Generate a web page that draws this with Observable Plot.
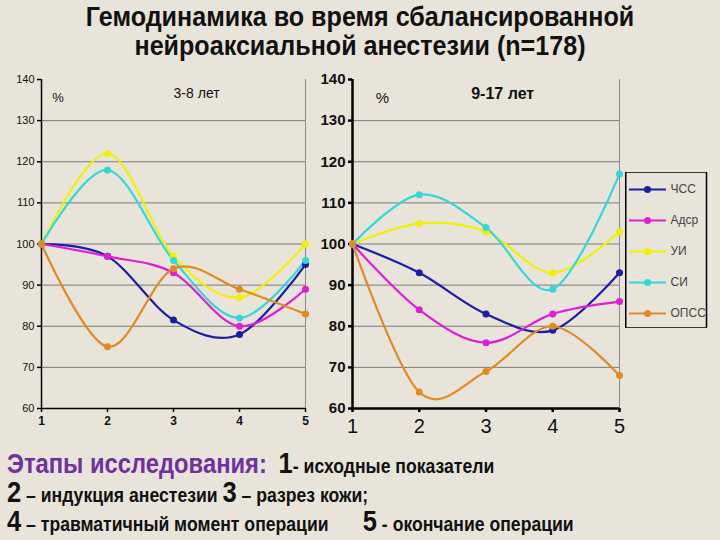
<!DOCTYPE html>
<html><head><meta charset="utf-8">
<script src="https://cdn.jsdelivr.net/npm/d3@7"></script>
<script src="https://cdn.jsdelivr.net/npm/@observablehq/plot@0.6"></script>
<style>
body{margin:0;background:#e8e4da;}
#page{position:relative;width:720px;height:540px;background:#e8e4da;overflow:hidden;font-family:"Liberation Sans",Arial,sans-serif;}
#title{position:absolute;top:3px;left:0;width:720px;text-align:center;font-weight:bold;font-size:27px;line-height:29px;color:#111;transform:scaleX(0.93);transform-origin:360px 0;}
.abs{position:absolute;}
#notes{position:absolute;left:7px;top:449px;font-weight:bold;color:#111;transform:scaleX(0.88);transform-origin:0 0;}
#notes div{height:29px;line-height:29px;white-space:pre;}
.big{font-size:29px;}
.sm{font-size:20px;}
.pur{color:#7030a0;font-size:27px;}
</style></head>
<body><div id="page">
<div id="title">Гемодинамика во время сбалансированной<br>нейроаксиальной анестезии (n=178)</div>
<div id="left" class="abs" style="left:0;top:60px"></div>
<div id="right" class="abs" style="left:310px;top:60px"></div>
<div id="legend" class="abs" style="left:625px;top:172px"></div>
<div id="notes">
<div><span class="pur">Этапы исследования:</span>   <span class="big">1</span><span class="sm">- исходные показатели</span></div>
<div><span class="big">2</span><span class="sm"> – индукция анестезии </span><span class="big">3</span><span class="sm"> – разрез кожи;</span></div>
<div><span class="big">4</span><span class="sm"> – травматичный момент операции       </span><span class="big">5</span><span class="sm"> - окончание операции</span></div>
</div>
</div>
<script>
const stages = [1, 2, 3, 4, 5];
const seriesNames = ["ЧСС", "Адср", "УИ", "СИ", "ОПСС"];
const seriesColors = ["#1c1ca8", "#e01ed6", "#f0f000", "#30d8dc", "#e08a22"];
const yTicks = [60, 70, 80, 90, 100, 110, 120, 130, 140];
const gridTicks = [70, 80, 90, 100, 110, 120, 130];

// 3-8 лет
const young_HR   = [100, 97, 81.5, 78, 95];
const young_MAP  = [100, 97, 93, 80, 89];
const young_SVI  = [100, 122, 97, 87, 100];
const young_CI   = [100, 118, 96, 82, 96];
const young_SVR  = [100, 75, 94, 89, 83];
// 9-17 лет
const old_HR   = [100, 93, 83, 79, 93];
const old_MAP  = [100, 84, 76, 83, 86];
const old_SVI  = [100, 105, 103, 93, 103];
const old_CI   = [100, 112, 104, 89, 117];
const old_SVR  = [100, 64, 69, 80, 68];

function table(arrs){
  const rows = [];
  arrs.forEach((vals, k) => vals.forEach((v, i) => rows.push({series: seriesNames[k], stage: stages[i], value: v})));
  return rows;
}
const youngData = table([young_HR, young_MAP, young_SVI, young_CI, young_SVR]);
const oldData = table([old_HR, old_MAP, old_SVI, old_CI, old_SVR]);

function chart(data, opt){
  return Plot.plot({
    width: 315, height: 390,
    marginLeft: opt.ml, marginRight: opt.mr, marginTop: 19, marginBottom: 42,
    style: {background: "transparent", fontFamily: "'Liberation Sans',Arial,sans-serif", color: "#111"},
    x: {domain: [1, 5]},
    y: {domain: [60, 140]},
    color: {domain: seriesNames, range: seriesColors},
    marks: [
      Plot.ruleY(gridTicks, {stroke: "#7a7a7a", strokeWidth: 1}),
      Plot.ruleX([5], {y1: 60, y2: 140, stroke: "#8a8a8a", strokeWidth: 1}),
      Plot.axisY({ticks: yTicks, tickSize: 4, tickPadding: opt.yPad, fontSize: opt.yFont, fontWeight: opt.yWeight, stroke: "#000", strokeWidth: opt.aw, label: null}),
      Plot.axisX({ticks: stages, tickSize: 4, tickPadding: opt.xPad, fontSize: opt.xFont, fontWeight: opt.xWeight, stroke: "#000", strokeWidth: opt.aw, label: null, tickFormat: d => d}),
      Plot.ruleX([1], {y1: 60, y2: 140, stroke: "#000", strokeWidth: opt.aw}),
      Plot.ruleY([60], {x1: 1, x2: 5, stroke: "#000", strokeWidth: opt.aw}),
      Plot.line(data, {x: "stage", y: "value", z: "series", stroke: "series", strokeWidth: 2.2, curve: "cardinal", tension: 0}),
      Plot.dot(data, {x: "stage", y: "value", fill: "series", r: 3.5}),
      Plot.text(["%"], {x: opt.pctX, y: 135.5, text: d => d, fontSize: opt.pctSize, fill: "#111"}),
      Plot.text([opt.label], {x: opt.labX, y: 136.5, text: d => d, fontSize: opt.labSize, fontWeight: opt.labWeight, fill: "#111"})
    ]
  });
}

document.getElementById("left").append(chart(youngData, {
  ml: 41, mr: 10, aw: 1.5, yFont: 11, yWeight: "normal", yPad: 3, xFont: 12, xWeight: "bold", xPad: 4,
  pctX: 1.25, pctSize: 13, label: "3-8 лет", labX: 3.35, labSize: 14, labWeight: "normal"
}));
document.getElementById("right").append(chart(oldData, {
  ml: 42, mr: 6, aw: 2.5, yFont: 15, yWeight: "bold", yPad: 3, xFont: 20, xWeight: "normal", xPad: 6,
  pctX: 1.45, pctSize: 15, label: "9-17 лет", labX: 3.25, labSize: 16, labWeight: "bold"
}));

const legend = Plot.plot({
  width: 84, height: 156, margin: 0,
  style: {background: "transparent", fontFamily: "Arial,'Liberation Sans',sans-serif"},
  x: {domain: [0, 84], range: [0, 84], axis: null},
  y: {type: "point", domain: seriesNames, range: [17, 141], padding: 0, axis: null},
  color: {domain: seriesNames, range: seriesColors},
  marks: [
    Plot.rect([0], {x1: 0.75, x2: 81.5, y1: null, y2: null, stroke: "#000", fill: "none", strokeWidth: 1.5}),
    Plot.ruleY(seriesNames, {y: d => d, x1: 4, x2: 41, stroke: d => d, strokeWidth: 2}),
    Plot.dot(seriesNames, {y: d => d, x: 22, fill: d => d, r: 3.5}),
    Plot.text(seriesNames, {y: d => d, x: 45, text: d => d, textAnchor: "start", fontSize: 12, fill: "#444"})
  ]
});
document.getElementById("legend").append(legend);
</script>
</body></html>
